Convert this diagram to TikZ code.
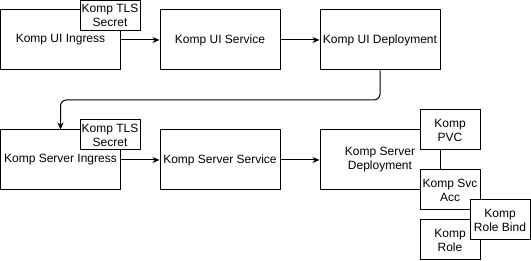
\documentclass[tikz,border=0pt]{standalone}
\usepackage{fontspec}
\setmainfont{Liberation Sans}
\usetikzlibrary{arrows.meta}
\begin{document}
\begin{tikzpicture}[x=1pt,y=-1pt,
  box/.style={draw=black,fill=white,line width=1pt,inner sep=0pt,minimum width=120pt,minimum height=60pt,align=center,font=\fontsize{12pt}{14pt}\selectfont},
  small/.style={draw=black,fill=white,line width=1pt,inner sep=0pt,minimum width=60pt,minimum height=40pt,align=center,font=\fontsize{12pt}{14pt}\selectfont},
  conn/.style={line width=1pt,-{Stealth[length=7pt,width=6pt]}}]
\useasboundingbox (0,0) rectangle (531,261);
% top row
\node[box] (uiing) at (60.5,40) {Komp UI Ingress};
\node[small,minimum height=30pt] (tls1) at (110,15.5) {Komp TLS\\Secret};
\node[box] (uisvc) at (220,40) {Komp UI Service};
\node[box] (uidep) at (380,40) {Komp UI Deployment};
% bottom row
\node[box] (sving) at (60.5,160) {Komp Server Ingress};
\node[small,minimum height=30pt] (tls2) at (110,135) {Komp TLS\\Secret};
\node[box] (svsvc) at (220,160) {Komp Server Service};
\node[box] (svdep) at (380,160) {Komp Server\\Deployment};
\node[small] (pvc) at (450,130) {Komp\\PVC};
\node[small] (sacc) at (450,190) {Komp Svc\\Acc};
\node[small] (role) at (450,240) {Komp\\Role};
\node[small] (rbind) at (500,220) {Komp\\Role Bind};
% connectors
\draw[conn] (uiing.east) -- (uisvc.west);
\draw[conn] (uisvc.east) -- (uidep.west);
\coordinate (c1) at (380,100);
\coordinate (c2) at (60.5,100);
\draw[conn,rounded corners=6pt] (uidep.south) -- (c1) -- (c2) -- (sving.north);
\draw[conn] (sving.east) -- (svsvc.west);
\draw[conn] (svsvc.east) -- (svdep.west);
\end{tikzpicture}
\end{document}
